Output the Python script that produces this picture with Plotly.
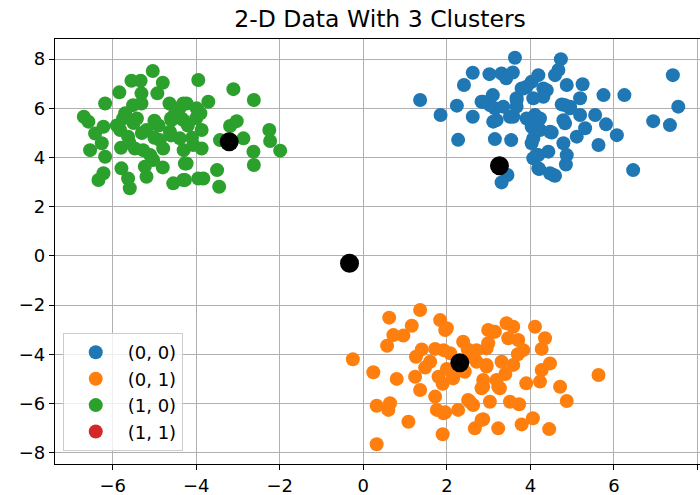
import plotly.graph_objects as go

# Cluster (0, 0) - blue
blue_x = [3.63,2.62,3.02,3.31,3.58,3.42,2.41,1.36,2.24,1.85,2.62,2.83,3.10,3.15,3.11,3.51,3.67,3.83,4.03,2.27,3.15,3.54,4.03,3.45,3.31,
          4.73,4.67,4.19,4.59,4.87,5.25,4.31,5.75,6.25,7.41,7.54,5.19,4.75,4.95,4.11,5.19,5.55,5.81,6.94,7.34,6.07,5.63,5.31,5.11,4.83,4.51,4.79,4.43,4.87,4.19,4.85,4.21,4.47,4.59,6.46,4.07,
          3.91,3.79,4.39,4.31,4.07,3.67,3.59,3.91,4.23,4.03,4.23,4.47,4.79,4.83,4.95,4.15,4.07,4.19,4.55,3.03,2.87,3.19,3.35,3.67]
blue_y = [8.06,7.45,7.39,7.42,7.46,7.22,6.95,6.34,6.11,5.73,5.66,6.27,6.54,6.00,5.46,5.66,6.41,6.81,7.08,4.72,4.75,4.71,4.58,3.29,2.99,
          8.00,7.56,7.35,7.35,6.95,6.98,6.81,6.54,6.54,7.35,6.07,6.41,6.16,6.07,5.73,5.73,5.73,5.35,5.48,5.32,4.91,4.51,5.19,4.85,5.39,5.02,4.58,4.24,4.10,4.10,3.72,3.53,3.36,3.26,3.49,4.78,
          6.88,6.81,6.74,6.47,6.41,6.34,5.66,5.59,5.59,5.25,5.12,5.05,5.52,6.13,6.00,4.10,3.97,3.56,3.29,6.13,6.27,5.52,6.07,6.07]

# Cluster (0, 1) - orange
orange_x = [1.36,0.62,1.16,1.84,2.00,0.72,0.96,0.57,2.39,1.72,1.26,0.24,0.80,1.24,1.48,1.80,2.15,1.36,1.72,0.32,
            0.64,0.60,1.76,1.96,2.27,1.08,0.32,1.90,2.55,2.67,-0.25,
            3.43,3.59,4.11,2.99,3.11,3.47,3.71,4.35,2.99,3.83,4.27,2.71,2.71,2.95,3.31,3.59,4.47,4.27,5.63,2.87,
            3.19,3.27,3.90,4.23,4.71,2.83,3.03,3.51,3.73,4.87,2.83,3.23,3.79,4.06,4.45,
            2.95,3.15,2.95,2.87,3.23,2.15,2.43,2.51,2.63,1.92,2.08,1.92,1.96,2.87,
            1.6,2.0,2.6,1.9,2.5,1.4,3.4,3.7]
orange_y = [-2.20,-2.51,-2.84,-2.61,-2.94,-3.22,-3.24,-3.65,-3.49,-3.78,-4.10,-4.73,-5.00,-4.91,-4.54,-4.91,-4.91,-5.45,-5.72,-6.09,
            -5.99,-6.26,-6.26,-6.36,-6.26,-6.74,-7.66,-7.25,-5.93,-7.01,-4.20,
            -2.74,-2.88,-2.88,-3.01,-3.08,-3.35,-3.42,-3.35,-3.55,-3.83,-3.78,-3.83,-4.30,-4.43,-4.30,-4.43,-4.37,-4.64,-4.84,-5.04,
            -5.04,-5.38,-5.18,-5.11,-5.32,-5.38,-5.93,-5.93,-6.03,-5.90,-6.67,-7.01,-6.85,-6.60,-7.04,
            -3.76,-3.08,-4.50,-5.32,-5.32,-4.98,-4.71,-5.86,-6.06,-6.40,-3.96,-3.83,-3.01,-6.64,
            -4.3,-4.6,-4.1,-5.2,-3.8,-3.8,-4.8,-4.0]

# Cluster (1, 0) - green
green_x = [-5.04,-5.55,-5.33,-4.80,-5.84,-5.31,-4.93,-6.18,-5.51,-5.31,-4.64,-4.31,-6.69,-6.58,-5.75,-5.42,-4.59,-4.35,-6.22,-6.42,
           -5.82,-5.19,-5.63,-4.63,-4.39,-6.26,-6.54,-5.47,-4.87,-4.79,-5.27,-6.18,-5.03,-5.23,-5.19,-6.22,-6.34,-5.79,-5.63,-5.59,
           -4.55,-4.27,-4.27,
           -3.95,-3.11,-2.62,-3.71,-4.23,-3.99,-4.31,-3.87,-3.03,-3.19,-2.87,-3.43,-2.25,-2.23,-1.99,-2.63,-4.07,-3.87,-2.62,-4.23,
           -3.50,-4.31,-3.95,-3.83,-3.45,
           -4.5,-4.2,-4.0,-4.6,-5.5,-5.3,-5.6,-5.9,-5.0,-4.9,-4.1,-4.4,-3.9,-4.8,-5.1,-5.7,-5.0,-4.6,-5.8,-4.3]
green_y = [7.52,7.12,7.12,7.04,6.65,6.61,6.61,6.20,6.13,6.20,6.20,6.20,5.66,5.46,5.59,5.59,5.52,5.59,5.25,4.98,
           5.12,5.12,4.85,5.05,4.78,4.58,4.30,4.37,4.71,4.37,4.30,4.03,3.90,3.63,3.22,3.36,3.09,3.56,3.15,2.75,
           2.95,3.09,3.76,
           7.15,6.78,6.34,6.27,6.20,6.00,5.52,5.12,5.48,5.28,4.78,4.71,5.12,4.67,4.28,4.24,4.51,4.37,3.70,3.76,
           3.49,3.09,3.15,3.15,2.81,
           5.8,5.3,5.6,4.9,5.4,5.0,4.6,5.3,4.8,5.3,4.8,6.0,5.8,3.6,4.1,5.8,5.5,5.6,4.4,4.3]

# Centroids (black)
cent_x = [-3.21, 3.26, 2.31, -0.33]
cent_y = [4.64, 3.67, -4.34, -0.30]

labels = ["(0, 0)", "(0, 1)", "(1, 0)", "(1, 1)"]
colors = ["#1f77b4", "#ff7f0e", "#2ca02c", "#d62728"]
xs = [blue_x, orange_x, green_x, [None]]
ys = [blue_y, orange_y, green_y, [None]]

fig = go.Figure()
for i in range(4):
    fig.add_trace(go.Scatter(
        x=xs[i], y=ys[i], mode="markers", name=labels[i], legendgroup=labels[i],
        marker=dict(color=colors[i], size=14, line=dict(width=0)),
    ))
fig.add_trace(go.Scatter(
    x=cent_x, y=cent_y, mode="markers", showlegend=False,
    marker=dict(color="black", size=19, line=dict(width=0)),
))

font = "DejaVu Sans"
axis_common = dict(
    showgrid=True, gridcolor="#b0b0b0", gridwidth=1.2,
    zeroline=False, showline=True, linecolor="black", linewidth=1.2,
    ticks="outside", ticklen=5, tickwidth=1.2, tickcolor="black",
    tickfont=dict(family=font, size=18, color="black"),
)
fig.update_layout(
    width=700, height=495,
    margin=dict(l=55, r=0, t=39, b=31),
    paper_bgcolor="white", plot_bgcolor="white",
    title=dict(text="2-D Data With 3 Clusters", x=0.504, xref="paper", xanchor="center",
               y=1 - 19 / 495, yref="container", yanchor="middle",
               font=dict(family=font, size=23.5, color="black")),
    xaxis=dict(range=[-7.38, 8.06], tickvals=[-6, -4, -2, 0, 2, 4, 6, 8], mirror=True, **axis_common),
    yaxis=dict(range=[-8.46, 8.82], tickvals=[-8, -6, -4, -2, 0, 2, 4, 6, 8], **axis_common),
    legend=dict(x=0.012, y=0.308, xanchor="left", yanchor="top",
                bgcolor="rgba(255,255,255,0.8)", bordercolor="#cccccc", borderwidth=1,
                font=dict(family=font, size=18, color="black"),
                traceorder="grouped", tracegroupgap=0, itemwidth=54),
    showlegend=True,
)
fig.write_html("out.html")
